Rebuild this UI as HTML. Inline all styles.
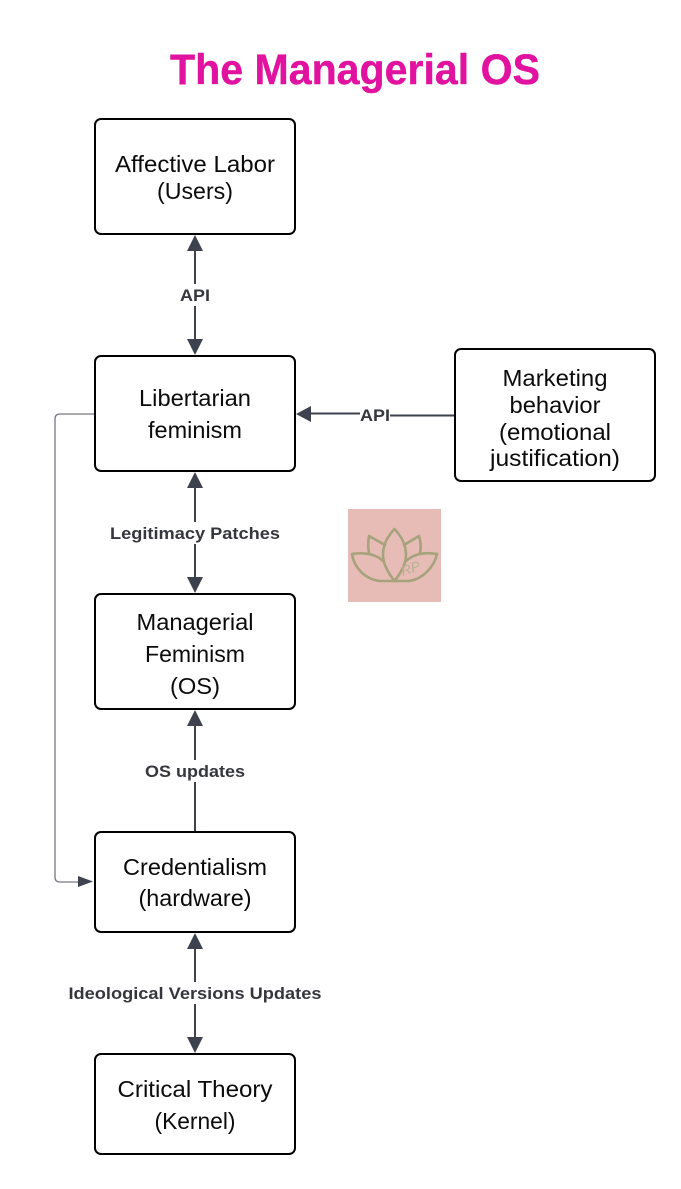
<!DOCTYPE html>
<html>
<head>
<meta charset="utf-8">
<style>
html,body{margin:0;padding:0;background:#fff;}
svg{display:block;}
text{font-family:"Liberation Sans",sans-serif;}
.n{font-size:23px;fill:#0b0b0b;text-anchor:middle;}
.l{font-size:17px;font-weight:bold;fill:#36373c;text-anchor:middle;}
rect.b{fill:#fff;stroke:#000;stroke-width:2;}
.c{stroke:#3d424e;stroke-width:2;fill:none;}
.a{fill:#3d424e;}
</style>
</head>
<body>
<svg width="681" height="1189" viewBox="0 0 681 1189" xmlns="http://www.w3.org/2000/svg">
<rect width="681" height="1189" fill="#fff"/>
<text x="355" y="84" font-size="43" font-weight="bold" fill="#e0129f" stroke="#e0129f" stroke-width="0.4" text-anchor="middle" textLength="370" lengthAdjust="spacingAndGlyphs">The Managerial OS</text>

<!-- vertical connectors -->
<path class="c" d="M195 248V284M195 306V344"/>
<polygon class="a" points="195,235 187,251 203,251"/>
<polygon class="a" points="195,355 187,339 203,339"/>

<path class="c" d="M195 486V522M195 544V582"/>
<polygon class="a" points="195,472 187,488 203,488"/>
<polygon class="a" points="195,593 187,577 203,577"/>

<path class="c" d="M195 724V760M195 782V832"/>
<polygon class="a" points="195,710 187,726 203,726"/>

<path class="c" d="M195 946V982M195 1004V1042"/>
<polygon class="a" points="195,933 187,949 203,949"/>
<polygon class="a" points="195,1053 187,1037 203,1037"/>

<!-- horizontal connector -->
<path class="c" d="M310 413.500H360M390 415.500H455"/>
<polygon class="a" points="296,414 311,406 311,422"/>

<!-- elbow connector -->
<path d="M95 414H60Q55 414 55 419V877Q55 882 60 882H80" fill="none" stroke="#767982" stroke-width="1.300"/>
<polygon class="a" points="93,881.500 78,876 78,887"/>

<!-- nodes -->
<rect class="b" x="95" y="119" width="200" height="115" rx="6"/>
<rect class="b" x="95" y="356" width="200" height="115" rx="6"/>
<rect class="b" x="95" y="594" width="200" height="115" rx="6"/>
<rect class="b" x="95" y="832" width="200" height="100" rx="6"/>
<rect class="b" x="95" y="1054" width="200" height="100" rx="6"/>
<rect class="b" x="455" y="349" width="200" height="132" rx="6"/>

<!-- node text -->
<text class="n" x="195" y="172" textLength="160" lengthAdjust="spacingAndGlyphs">Affective Labor</text>
<text class="n" x="195" y="199" textLength="76" lengthAdjust="spacingAndGlyphs">(Users)</text>
<text class="n" x="195" y="406" textLength="112" lengthAdjust="spacingAndGlyphs">Libertarian</text>
<text class="n" x="195" y="438" textLength="94" lengthAdjust="spacingAndGlyphs">feminism</text>
<text class="n" x="195" y="630" textLength="117" lengthAdjust="spacingAndGlyphs">Managerial</text>
<text class="n" x="195" y="662" textLength="100" lengthAdjust="spacingAndGlyphs">Feminism</text>
<text class="n" x="195" y="694" textLength="50" lengthAdjust="spacingAndGlyphs">(OS)</text>
<text class="n" x="195" y="875" textLength="144" lengthAdjust="spacingAndGlyphs">Credentialism</text>
<text class="n" x="195" y="906" textLength="113" lengthAdjust="spacingAndGlyphs">(hardware)</text>
<text class="n" x="195" y="1097" textLength="155" lengthAdjust="spacingAndGlyphs">Critical Theory</text>
<text class="n" x="195" y="1129" textLength="81" lengthAdjust="spacingAndGlyphs">(Kernel)</text>
<text class="n" x="555" y="386" textLength="105" lengthAdjust="spacingAndGlyphs">Marketing</text>
<text class="n" x="555" y="413" textLength="91" lengthAdjust="spacingAndGlyphs">behavior</text>
<text class="n" x="555" y="440" textLength="112" lengthAdjust="spacingAndGlyphs">(emotional</text>
<text class="n" x="555" y="466" textLength="130" lengthAdjust="spacingAndGlyphs">justification)</text>

<!-- edge labels -->
<text class="l" x="195" y="301" textLength="30" lengthAdjust="spacingAndGlyphs">API</text>
<text class="l" x="375" y="421" textLength="30" lengthAdjust="spacingAndGlyphs">API</text>
<text class="l" x="195" y="539" textLength="170" lengthAdjust="spacingAndGlyphs">Legitimacy Patches</text>
<text class="l" x="195" y="777" textLength="100" lengthAdjust="spacingAndGlyphs">OS updates</text>
<text class="l" x="195" y="999" textLength="253" lengthAdjust="spacingAndGlyphs">Ideological Versions Updates</text>

<!-- logo -->
<rect x="348" y="509" width="93" height="93" fill="#e7bcb6"/>
<g fill="none" stroke="#a5a27c" stroke-width="2.600" stroke-linejoin="round" stroke-linecap="round">
<path d="M394.500 529C386 538 383 546 383 555C383 565 389 574 394.500 581C400 574 406 565 406 555C406 546 403 538 394.500 529Z"/>
<path d="M385 545L369 536C368 542 368 548 369 553"/>
<path d="M404 545L419 536C421 542 421 548 420 553"/>
<path d="M352 554C364 552 376 554 383 561"/>
<path d="M437 554C425 552 414 554 406 561"/>
<path d="M352 554C354 567 364 579 380 581H409C423 579 434 567 437 554"/>
</g>
<text x="412" y="573" font-size="14" font-style="italic" fill="#b8b192" transform="rotate(-18 412 573)" text-anchor="middle">RP</text>
</svg>
</body>
</html>
